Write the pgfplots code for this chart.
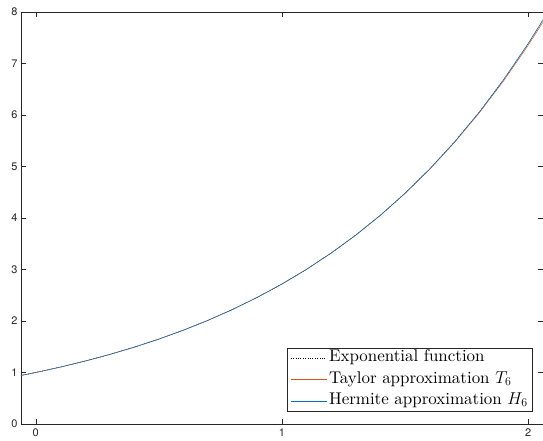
\documentclass[border=0pt]{standalone}
\usepackage{fontspec}
\newfontfamily\hel{TeX Gyre Heros}
\newfontfamily\lmten{lmroman10-regular.otf}
\usepackage{pgfplots}
\pgfplotsset{compat=1.18}
\definecolor{mblue}{rgb}{0,0.447,0.741}
\definecolor{morange}{rgb}{0.85,0.325,0.098}
\definecolor{axgray}{rgb}{0.15,0.15,0.15}
\begin{document}
\begin{tikzpicture}
\begin{axis}[name=ax,
  width=522bp, height=412bp, scale only axis,
  xmin=-0.06, xmax=2.06, ymin=0, ymax=8,
  xtick={0,1,2}, ytick={0,1,2,3,4,5,6,7,8},
  tick align=inside, major tick length=5bp,
  axis line style={axgray, line width=0.5pt},
  tick style={axgray, line width=0.5pt},
  ticklabel style={font=\hel\fontsize{11}{13}\selectfont, text=axgray},
  xticklabel style={yshift=-1bp},
  /pgf/number format/assume math mode=true,
  legend cell align=left,
  legend style={at={(0.979,0.03)}, anchor=south east, draw=axgray, line width=0.5pt,
    font=\lmten\fontsize{17}{19}\selectfont, inner xsep=3bp, inner ysep=2bp,
    nodes={inner sep=1bp, text height=11bp, text depth=4bp},
    row sep=4.3bp, column sep=1bp},
  legend image code/.code={\draw[#1] (0bp,0bp) -- (36bp,0bp);},
]
\addplot[black, line width=0.5pt, dash pattern=on 0.8bp off 1.6bp] coordinates {
(-0.06,0.94176) (0,1) (0.1,1.10517) (0.2,1.22140) (0.3,1.34986) (0.4,1.49182)
(0.5,1.64872) (0.6,1.82212) (0.7,2.01375) (0.8,2.22554) (0.9,2.45960)
(1.0,2.71828) (1.1,3.00417) (1.2,3.32012) (1.3,3.66930) (1.4,4.05520)
(1.5,4.48169) (1.6,4.95303) (1.7,5.47395) (1.8,6.04965) (1.9,6.68589)
(2.0,7.38906) (2.06,7.84598)};
\addlegendentry{Exponential function}
\addplot[morange, line width=0.5pt] coordinates {
(-0.06,0.94176) (0,1) (0.1,1.10517) (0.2,1.22140) (0.3,1.34986) (0.4,1.49182)
(0.5,1.64872) (0.6,1.82212) (0.7,2.01375) (0.8,2.22554) (0.9,2.45960)
(1.0,2.71825) (1.1,3.00412) (1.2,3.31930) (1.3,3.66780) (1.4,4.05270)
(1.5,4.47760) (1.6,4.94650) (1.7,5.46380) (1.8,6.03410) (1.9,6.66285)
(2.0,7.35556) (2.06,7.80439)};
\addlegendentry{Taylor approximation $T_6$}
\addplot[mblue, line width=0.5pt] coordinates {
(-0.06,0.94176) (0,1) (0.1,1.10517) (0.2,1.22140) (0.3,1.34986) (0.4,1.49182)
(0.5,1.64872) (0.6,1.82212) (0.7,2.01375) (0.8,2.22554) (0.9,2.45960)
(1.0,2.71828) (1.1,3.00417) (1.2,3.32012) (1.3,3.66930) (1.4,4.05520)
(1.5,4.48169) (1.6,4.95303) (1.7,5.47395) (1.8,6.04965) (1.9,6.68589)
(2.0,7.38906) (2.06,7.84598)};
\addlegendentry{Hermite approximation $H_6$}
\end{axis}
\pgfresetboundingbox
\path ([shift={(-21bp,-17bp)}]ax.south west) rectangle ([shift={(0bp,12bp)}]ax.north east);
\end{tikzpicture}
\end{document}
